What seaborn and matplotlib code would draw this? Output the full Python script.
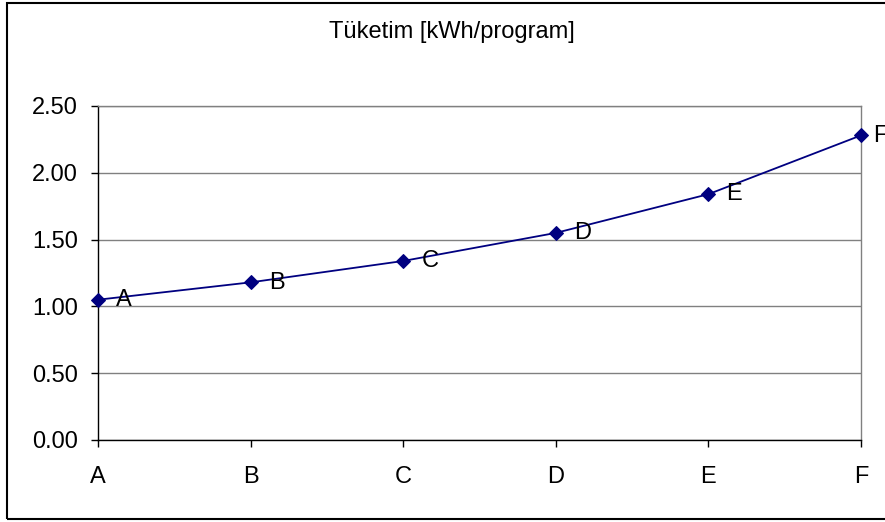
import matplotlib
matplotlib.use("Agg")
import matplotlib.pyplot as plt
import seaborn as sns
import pandas as pd
from matplotlib.patches import Rectangle

categories = ["A", "B", "C", "D", "E", "F"]
consumption = [1.05, 1.18, 1.34, 1.55, 1.84, 2.28]
y_ticks = [0.0, 0.5, 1.0, 1.5, 2.0, 2.5]
title = "Tüketim [kWh/program]"

sns.set_style("white")
plt.rcParams["font.family"] = ["Liberation Sans", "DejaVu Sans"]
plt.rcParams["text.color"] = "black"
plt.rcParams["xtick.color"] = "black"
plt.rcParams["ytick.color"] = "black"
plt.rcParams["xtick.labelcolor"] = "black"
plt.rcParams["ytick.labelcolor"] = "black"

FS = 17

df = pd.DataFrame({"idx": range(len(categories)), "cat": categories, "val": consumption})

W, H = 885, 522
fig = plt.figure(figsize=(W / 100, H / 100), dpi=100)
ax = fig.add_axes([98 / W, (H - 440) / H, (861 - 98) / W, (440 - 106) / H])

sns.lineplot(data=df, x="idx", y="val", ax=ax, color="#000080", linewidth=1.3,
             marker="D", markersize=7.5, markeredgecolor="#000080", markerfacecolor="#000080",
             zorder=5, clip_on=False)

n = len(categories)
for i, (c, v) in enumerate(zip(categories, consumption)):
    dx = 13 if i < n - 1 else 9
    ax.annotate(c, (i, v), xytext=(dx, -4.5), textcoords="offset points",
                ha="left", va="baseline", fontsize=FS, color="black", zorder=6,
                annotation_clip=False)

ax.set_xlim(0, n - 1)
ax.set_ylim(0, 2.5)
ax.set_yticks(y_ticks)
ax.set_yticklabels([f"{t:.2f}" for t in y_ticks], fontsize=FS, color="black")
ax.set_xticks(range(n))
ax.set_xticklabels(categories, fontsize=FS, color="black")
ax.set_xlabel("")
ax.set_ylabel("")

ax.yaxis.grid(True, color="#808080", linewidth=1)
ax.xaxis.grid(False)
ax.set_axisbelow(True)

for s in ["top", "right"]:
    ax.spines[s].set_color("#808080")
    ax.spines[s].set_linewidth(1)
for s in ["left", "bottom"]:
    ax.spines[s].set_color("black")
    ax.spines[s].set_linewidth(1)

ax.tick_params(axis="y", direction="out", length=5, width=1, color="black", pad=9.5, left=True)
ax.tick_params(axis="x", direction="out", length=5, width=1, color="black", pad=14, bottom=True)

fig.text(452 / W, 1 - 38 / H, title, ha="center", va="baseline", fontsize=FS, color="black")

fig.patches.append(Rectangle((7 / W, 3 / H), (W + 10 - 7) / W, (519 - 3) / H,
                             transform=fig.transFigure, fill=False,
                             edgecolor="black", linewidth=1.5))

fig.savefig("out.png", dpi=100)
